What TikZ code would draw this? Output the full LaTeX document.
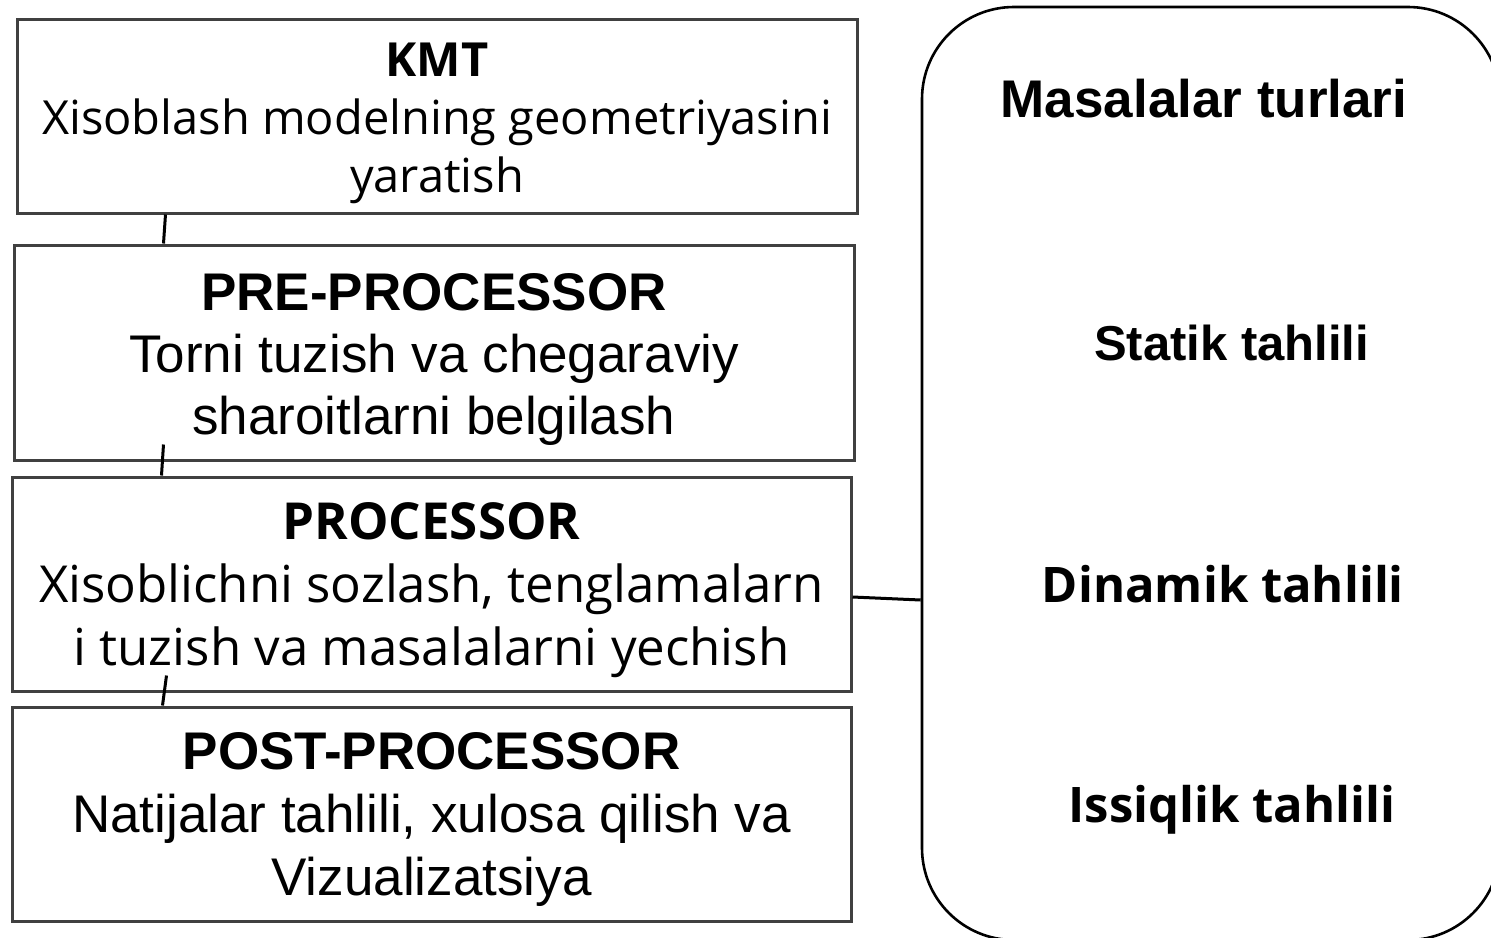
\documentclass[tikz,border=0pt]{standalone}
\usepackage{fontspec}
\setmainfont{Liberation Sans}
\newfontfamily\malgun[WordSpace=1.6]{Open Sans}
\newfontfamily\malgunb{Open Sans}
\usetikzlibrary{positioning}
\newcommand{\topgap}[1]{\rule{0pt}{#1}}
\tikzstyle{stage}=[draw=black!75,line width=3pt,minimum width=840pt,minimum height=214pt,align=center,inner sep=0pt]
\tikzstyle{link}=[line width=3pt]
\tikzstyle{kind}=[anchor=base,inner sep=0pt,font=\bfseries]

\begin{document}
\begin{tikzpicture}[x=1pt,y=-1pt]
\useasboundingbox (0,0) rectangle (1491,937);
\clip (0,0) rectangle (1491,937);

\node[stage,minimum height=194pt,font=\malgun\fontsize{47}{58}\selectfont] at (437,116) (kmt) {\topgap{48pt}\textbf{KMT}\\Xisoblash modelning geometriyasini\\yaratish};
\node[stage,minimum height=215pt,font=\fontsize{53}{62}\selectfont] at (434,352.5) (pre) {\topgap{50pt}\textbf{PRE-PROCESSOR}\\Torni tuzish va chegaraviy\\sharoitlarni belgilash};
\node[stage,minimum width=839pt,font=\malgun\fontsize{51}{63}\selectfont] at (431.5,584) (proc) {\topgap{49pt}\textbf{PROCESSOR}\\Xisoblichni sozlash, tenglamalarn\\i tuzish va masalalarni yechish};
\node[stage,minimum width=839pt,font=\fontsize{53}{63}\selectfont] at (431.5,814) (post) {\topgap{48pt}\textbf{POST-PROCESSOR}\\Natijalar tahlili, xulosa qilish va\\Vizualizatsiya};

\node[draw,line width=2.6pt,rounded corners=92pt,minimum width=578pt,minimum height=933pt] at (1211,473.5) (types) {};
\node[kind,font=\bfseries\fontsize{53}{60}\selectfont] at (1204,117) (title) {Masalalar turlari};
\node[kind,font=\bfseries\fontsize{49}{56}\selectfont] at (1231.5,360) (static) {Statik tahlili};
\node[kind,font=\malgunb\bfseries\fontsize{49}{56}\selectfont] at (1223,602) (dynamic) {Dinamik tahlili};
\node[kind,font=\malgunb\bfseries\fontsize{49}{56}\selectfont] at (1232,822) (thermal) {Issiqlik tahlili};

\draw[link] ([xshift=150pt]kmt.south west) -- ([xshift=151pt]pre.north west);
\draw[link] ([xshift=151pt,yshift=17pt]pre.south west) -- ([xshift=151pt]proc.north west);
\draw[link] ([xshift=156pt,yshift=17pt]proc.south west) -- ([xshift=152pt]post.north west);
\draw[link] ([yshift=-13pt]proc.east) -- ([yshift=-126.5pt]types.west);

\end{tikzpicture}
\end{document}
